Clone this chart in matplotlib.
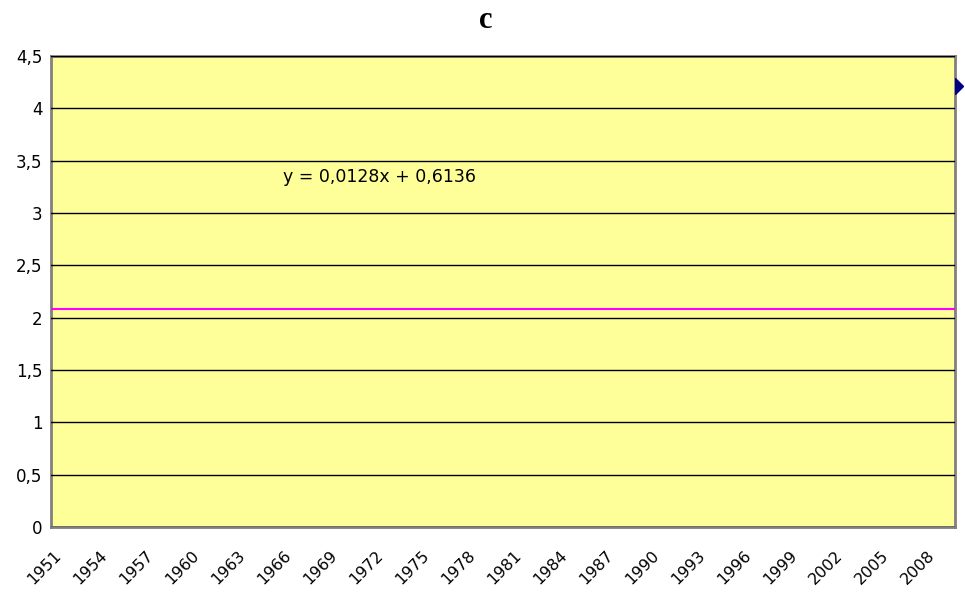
import matplotlib.pyplot as plt
import matplotlib.transforms as mtransforms
import numpy as np

plt.rcParams['font.family'] = ['DejaVu Sans']

years = list(range(1951, 2010))
tick_years = list(range(1951, 2010, 3))
level = 2.08          # flat magenta series
marker_year = 2009.5
marker_value = 4.21
equation = 'y = 0,0128x + 0,6136'
y_ticks = [0, 0.5, 1, 1.5, 2, 2.5, 3, 3.5, 4, 4.5]
y_labels = ['0', '0,5', '1', '1,5', '2', '2,5', '3', '3,5', '4', '4,5']

fig = plt.figure(figsize=(9.65, 5.92), dpi=100)
ax = fig.add_axes([51 / 965, 65 / 592, 904 / 965, 471 / 592])
ax.set_facecolor('#ffff99')

x = np.arange(len(years))
ax.axhline(level, color='#ff00ff', linewidth=1.5, zorder=3)

# point sits on the right border, only its right half shows outside the plot
pt, = ax.plot(marker_year - years[0], marker_value, marker='D',
              color='#000080', markersize=8.5, zorder=4)
clip = mtransforms.TransformedBbox(mtransforms.Bbox([[1.0, 0], [1.5, 1]]), ax.transAxes)
pt.set_clip_box(clip)
pt.set_clip_on(True)

ax.set_xlim(-0.5, len(years) - 0.5)
ax.set_ylim(0, 4.5)
ax.set_yticks(y_ticks)
ax.set_yticklabels(y_labels, fontsize=12)
ax.yaxis.grid(True, color='black', linewidth=1)
ax.set_axisbelow(False)
ax.tick_params(axis='both', length=0)
ax.tick_params(axis='y', pad=6)

ticks = [years.index(y) for y in tick_years]
ax.set_xticks(ticks)
ax.set_xticklabels([str(y) for y in tick_years], rotation=45, ha='right',
                   rotation_mode='anchor', fontsize=11.5)
ax.tick_params(axis='x', pad=15)
shift = mtransforms.ScaledTranslation(-5 / 100, 0, fig.dpi_scale_trans)
for lab in ax.get_xticklabels():
    lab.set_transform(lab.get_transform() + shift)

for s in ax.spines.values():
    s.set_color('#808080')
    s.set_linewidth(2)

ax.text(0.257, 0.733, equation, transform=ax.transAxes, fontsize=12.5)

fig.text(0.503, 0.965, 'c', ha='center', va='center', fontsize=22,
         fontweight='bold', family='Liberation Serif')

fig.savefig('out.png', dpi=100)
